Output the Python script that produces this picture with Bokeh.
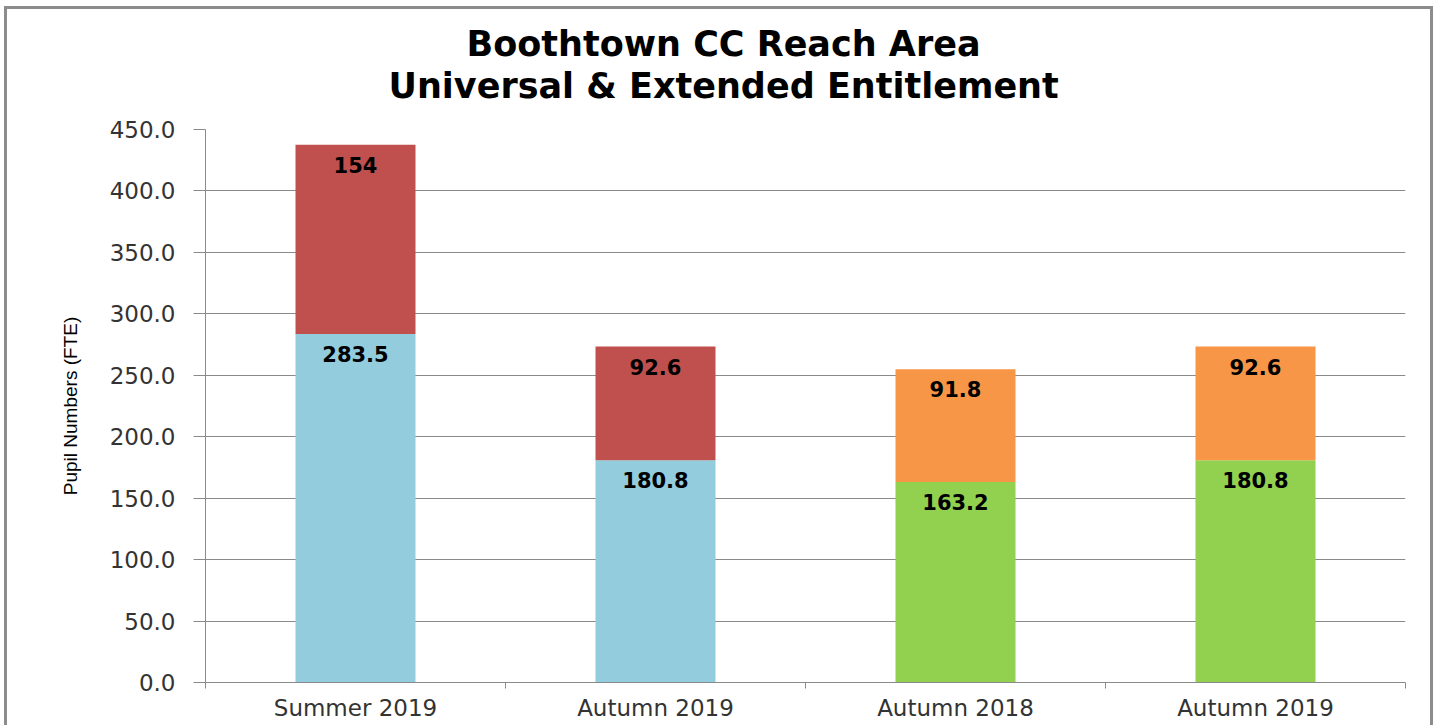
from bokeh.plotting import figure
from bokeh.models import FixedTicker, ColumnDataSource, NumeralTickFormatter, Title
from bokeh.core.properties import value
from bokeh.embed import file_html
from bokeh.resources import INLINE

# ---- data ----
periods = ["Summer 2019", "Autumn 2019", "Autumn 2018", "Autumn 2019"]
universal = [283.5, 180.8, 163.2, 180.8]
extended = [154, 92.6, 91.8, 92.6]
universal_labels = ["283.5", "180.8", "163.2", "180.8"]
extended_labels = ["154", "92.6", "91.8", "92.6"]
universal_colors = ["#93CDDD", "#93CDDD", "#92D050", "#92D050"]
extended_colors = ["#C0504D", "#C0504D", "#F79646", "#F79646"]
y_ticks = [0, 50, 100, 150, 200, 250, 300, 350, 400, 450]
title_lines = ["Boothtown CC Reach Area", "Universal & Extended Entitlement"]
y_label = "Pupil Numbers (FTE)"

x_pos = [i + 0.5 for i in range(len(periods))]
totals = [u + e for u, e in zip(universal, extended)]

src = ColumnDataSource(dict(
    x=x_pos, uni=universal, tot=totals,
    uni_lab=universal_labels, ext_lab=extended_labels,
    uni_col=universal_colors, ext_col=extended_colors,
))

GRID = "#8a8a8a"
FONT = "DejaVu Sans"

p = figure(width=1429, height=719, x_range=(0, len(periods)), y_range=(0, 450),
           output_backend="svg", toolbar_location=None,
           min_border_left=198, min_border_right=31,
           min_border_top=120, min_border_bottom=46)
p.styles = {"margin-left": "4px", "margin-top": "6px",
            "border-top": "3px solid #8c8c8c", "border-left": "3px solid #8c8c8c",
            "border-right": "3px solid #8c8c8c"}
p.outline_line_color = None
p.background_fill_color = "white"
p.border_fill_color = "white"

# two-line title: spacer, then line 2, then line 1 (stacked outward from the frame)
p.add_layout(Title(text=" ", text_font_size="12px", standoff=8), "above")
p.add_layout(Title(text=title_lines[1], align="left", offset=183, text_font=FONT,
                   text_font_size="35px", text_font_style="bold",
                   text_color="black", standoff=0), "above")
p.add_layout(Title(text=title_lines[0], align="left", offset=261, text_font=FONT,
                   text_font_size="35px", text_font_style="bold",
                   text_color="black", standoff=0), "above")

p.vbar(x="x", bottom=0, top="uni", width=0.4, fill_color="uni_col",
       line_color=None, source=src)
p.vbar(x="x", bottom="uni", top="tot", width=0.4, fill_color="ext_col",
       line_color=None, source=src)

p.text(x="x", y="uni", text="uni_lab", source=src, text_align="center",
       text_baseline="top", y_offset=12, text_font=value(FONT),
       text_font_style="bold", text_font_size="21px", text_color="black")
p.text(x="x", y="tot", text="ext_lab", source=src, text_align="center",
       text_baseline="top", y_offset=12, text_font=value(FONT),
       text_font_style="bold", text_font_size="21px", text_color="black")

# grid
p.xgrid.grid_line_color = None
p.ygrid.grid_line_color = GRID
p.ygrid.grid_line_width = 1
p.ygrid.ticker = FixedTicker(ticks=y_ticks)

# y axis
ya = p.yaxis[0]
ya.ticker = FixedTicker(ticks=y_ticks)
ya.formatter = NumeralTickFormatter(format="0.0")
ya.axis_line_color = GRID
ya.major_tick_line_color = GRID
ya.major_tick_out = 12
ya.major_tick_in = 0
ya.minor_tick_line_color = None
ya.major_label_standoff = 18
ya.major_label_text_font = FONT
ya.major_label_text_font_size = "23px"
ya.major_label_text_color = "#333333"
ya.axis_label = y_label
ya.axis_label_text_font = "Liberation Sans"
ya.axis_label_text_font_size = "19px"
ya.axis_label_text_font_style = "normal"
ya.axis_label_text_color = "black"
ya.axis_label_standoff = 26

# x axis
xa = p.xaxis[0]
xa.ticker = FixedTicker(ticks=x_pos, minor_ticks=list(range(len(periods) + 1)))
xa.major_label_overrides = {x: name for x, name in zip(x_pos, periods)}
xa.axis_line_color = GRID
xa.major_tick_line_color = None
xa.major_tick_out = 0
xa.major_tick_in = 0
xa.minor_tick_line_color = GRID
xa.minor_tick_out = 6
xa.minor_tick_in = 0
xa.major_label_standoff = 6
xa.major_label_text_font = FONT
xa.major_label_text_font_size = "23px"
xa.major_label_text_color = "#333333"

open("out.html", "w").write(file_html(p, INLINE))
